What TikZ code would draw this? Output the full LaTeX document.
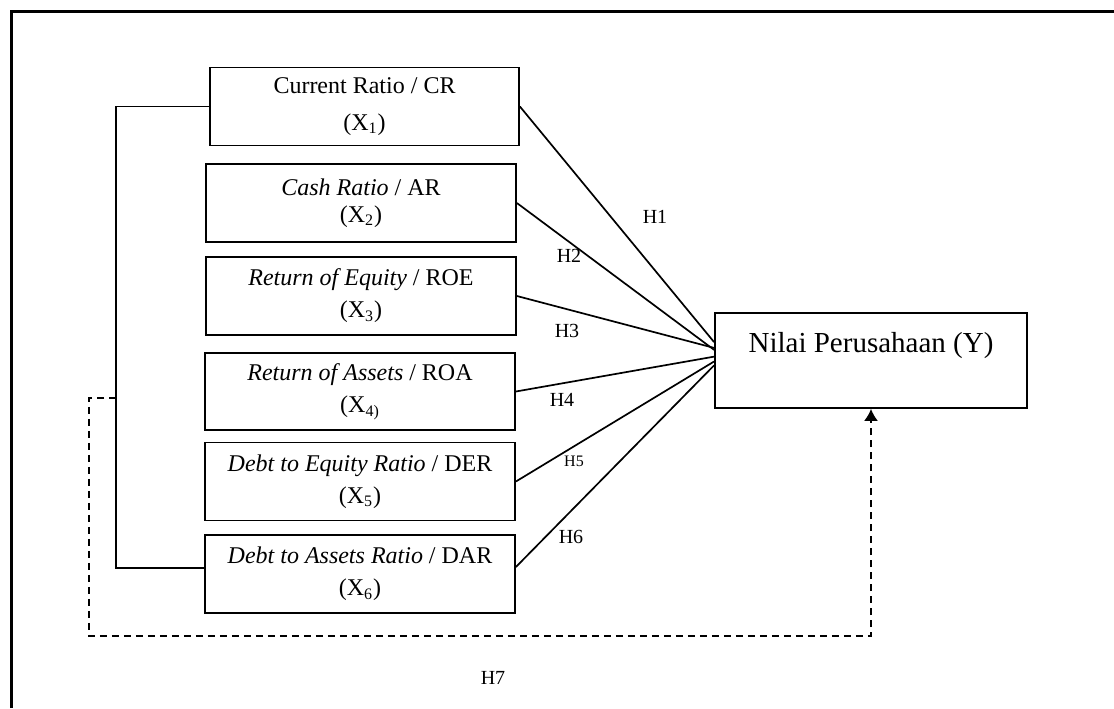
\documentclass[tikz,border=0pt]{standalone}
\usepackage{fontspec}
\setmainfont{Liberation Serif}
\usetikzlibrary{arrows.meta,
                calc,
                positioning}

\tikzset{
  varbox/.style={draw, line width=0.9pt, fill=white, minimum width=155pt,
                 minimum height=39pt, align=center, inner sep=0pt,
                 font=\fontsize{12}{16}\selectfont},
  hyp/.style={line width=0.85pt},
  hlabel/.style={font=\fontsize{10}{12}\selectfont, inner sep=0pt},
}

\begin{document}
\begin{tikzpicture}[x=0.5pt,y=-0.5pt]
\useasboundingbox (0,0) rectangle (1114,708);
% frame
\draw[line width=1.5pt] (11,708) -- (11,11) -- (1114,11);

% variables
\node[varbox, minimum width=154.5pt, font=\fontsize{12}{18.5}\selectfont] (cr) at (364.5,106.5) {Current Ratio / CR\\(X\textsubscript{1})};
\node[varbox, font=\fontsize{12}{13.5}\selectfont] (ar) at (361,203) {\textit{Cash Ratio} / AR\\(X\textsubscript{2})};
\node[varbox] (roe) at (361,296) {\textit{Return of Equity} / ROE\\(X\textsubscript{3})};
\node[varbox, minimum height=38.5pt] (roa) at (360,391.5) {\textit{Return of Assets} / ROA\\(X\textsubscript{4)}};
\node[varbox] (der) at (360,481.5) {\textit{Debt to Equity Ratio} / DER\\(X\textsubscript{5})};
\node[varbox] (dar) at (360,574) {\textit{Debt to Assets Ratio} / DAR\\(X\textsubscript{6})};

% dependent
\node[draw, line width=0.9pt, minimum width=156pt, minimum height=47.5pt,
      inner ysep=0pt, text height=10pt, text depth=18pt,
      font=\fontsize{14.5}{17}\selectfont] (y) at (871,360.5) {Nilai Perusahaan (Y)};

% hypotheses
\draw[hyp] (cr.east) -- ($(y.north west)!0.31!(y.south west)$);
\draw[hyp] (ar.east) -- ($(y.north west)!0.39!(y.south west)$);
\draw[hyp] (roe.east) -- ($(y.north west)!0.37!(y.south west)$);
\draw[hyp] (roa.east) -- ($(y.north west)!0.46!(y.south west)$);
\draw[hyp] (der.east) -- ($(y.north west)!0.51!(y.south west)$);
\draw[hyp] ([yshift=3.5pt]dar.east) -- ($(y.north west)!0.55!(y.south west)$);

\node[hlabel] (h1) at (655,217) {H1};
\node[hlabel] (h2) at (569,256) {H2};
\node[hlabel] (h3) at (567,331) {H3};
\node[hlabel] (h4) at (562,400) {H4};
\node[hlabel, font=\fontsize{8}{10}\selectfont] (h5) at (574,461) {H5};
\node[hlabel] (h6) at (571,537) {H6};

% simultaneous
\draw[hyp] (cr.west) -- ++(-93,0) coordinate (brk) |- ([yshift=3pt]dar.west);
\coordinate (joint) at (brk |- 0,398);
\draw[hyp, dash pattern=on 3.5pt off 2.5pt, -{Latex[length=6pt,width=7pt]}]
  (joint) -- (89,398) -- (89,636) -| (y.south);
\node[hlabel] (h7) at (493,678) {H7};

\end{tikzpicture}
\end{document}
